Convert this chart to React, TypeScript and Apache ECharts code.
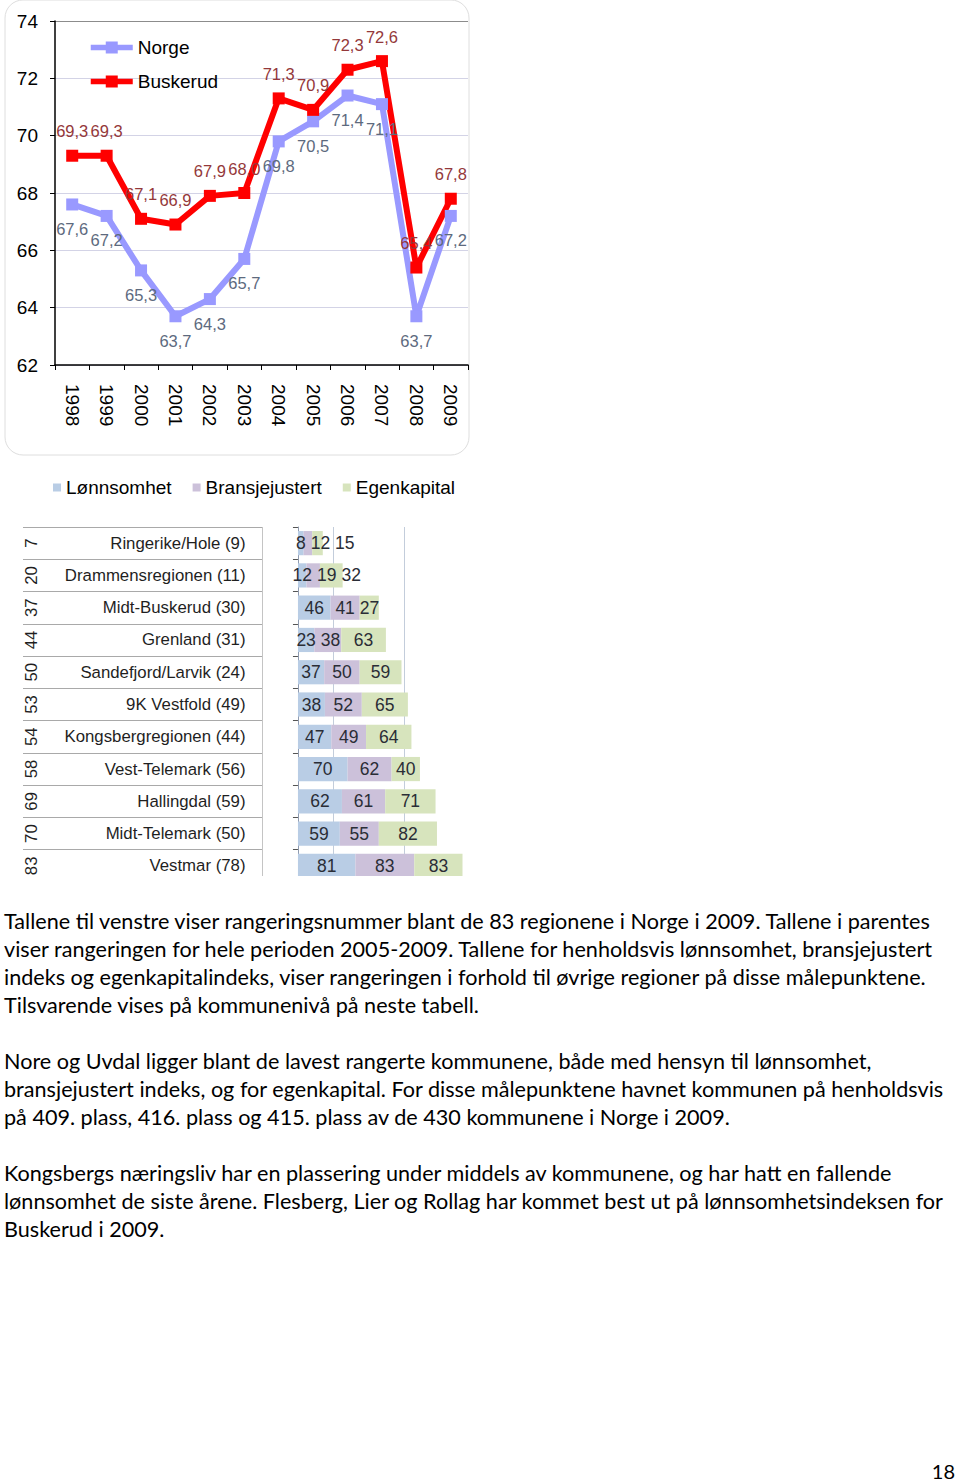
import React, { useEffect, useRef } from 'react';
import * as echarts from 'echarts';

// ---- Line chart data ----
const years = ['1998', '1999', '2000', '2001', '2002', '2003', '2004', '2005', '2006', '2007', '2008', '2009'];
const norge = [67.6, 67.2, 65.3, 63.7, 64.3, 65.7, 69.8, 70.5, 71.4, 71.1, 63.7, 67.2];
const buskerud = [69.3, 69.3, 67.1, 66.9, 67.9, 68.0, 71.3, 70.9, 72.3, 72.6, 65.4, 67.8];

// ---- Ranking table / bar data ----
const regions = [
  'Ringerike/Hole', 'Drammensregionen', 'Midt-Buskerud', 'Grenland', 'Sandefjord/Larvik',
  '9K Vestfold', 'Kongsbergregionen', 'Vest-Telemark', 'Hallingdal', 'Midt-Telemark', 'Vestmar',
];
const periodRank = [9, 11, 30, 31, 24, 49, 44, 56, 59, 50, 78];
const rank2009 = [7, 20, 37, 44, 50, 53, 54, 58, 69, 70, 83];
const lonnsomhet = [8, 12, 46, 23, 37, 38, 47, 70, 62, 59, 81];
const bransjejustert = [12, 19, 41, 38, 50, 52, 49, 62, 61, 55, 83];
const egenkapital = [15, 32, 27, 63, 59, 65, 64, 40, 71, 82, 83];

const paragraphLines = [
  'Tallene til venstre viser rangeringsnummer blant de 83 regionene i Norge i 2009. Tallene i parentes',
  'viser rangeringen for hele perioden 2005-2009. Tallene for henholdsvis lønnsomhet, bransjejustert',
  'indeks og egenkapitalindeks, viser rangeringen i forhold til øvrige regioner på disse målepunktene.',
  'Tilsvarende vises på kommunenivå på neste tabell.',
  '',
  'Nore og Uvdal ligger blant de lavest rangerte kommunene, både med hensyn til lønnsomhet,',
  'bransjejustert indeks, og for egenkapital. For disse målepunktene havnet kommunen på henholdsvis',
  'på 409. plass, 416. plass og 415. plass av de 430 kommunene i Norge i 2009.',
  '',
  'Kongsbergs næringsliv har en plassering under middels av kommunene, og har hatt en fallende',
  'lønnsomhet de siste årene. Flesberg, Lier og Rollag har kommet best ut på lønnsomhetsindeksen for',
  'Buskerud i 2009.',
];

const FONT = "'Liberation Sans', Arial, sans-serif";
const TEXT_FONT = "Lato, 'Open Sans', sans-serif";

const BAR_MIN = -50;
const BAR_MAX = 232;
const BAR_GRID_W = 200;
const BAR_LABEL_SIZE = 17.5;

function fmt(v: number) {
  return v.toFixed(1).replace('.', ',');
}

// shift bar labels to the right when they would collide inside a row
function computeLabelShifts(seriesVals: number[][]) {
  const k = BAR_GRID_W / (BAR_MAX - BAR_MIN);
  const digit = 0.556 * BAR_LABEL_SIZE;
  const gap = 5;
  const shifts = seriesVals.map(() => [] as number[]);
  for (let r = 0; r < seriesVals[0].length; r++) {
    let start = 0;
    let prevRight = -Infinity;
    seriesVals.forEach((vals, s) => {
      const v = vals[r];
      const c = (start + v / 2) * k;
      const w = String(v).length * digit;
      let left = c - w / 2;
      if (left < prevRight + gap) left = prevRight + gap;
      shifts[s][r] = left + w / 2 - c;
      prevRight = left + w;
      start += v;
    });
  }
  return shifts;
}

export default function App() {
  const ref = useRef<HTMLDivElement>(null);

  useEffect(() => {
    if (!ref.current) return;
    const chart = echarts.init(ref.current, undefined, { renderer: 'svg' });
    const barVals = [lonnsomhet, bransjejustert, egenkapital];
    const shifts = computeLabelShifts(barVals);
    const barNames = ['Lønnsomhet', 'Bransjejustert', 'Egenkapital'];
    const barColors = ['#b9cde5', '#ccc1da', '#d7e4bd'];
    const T = 'rgba(0,0,0,0)';

    const barSeries = barVals.map((vals, s) => ({
      type: 'bar',
      name: barNames[s],
      xAxisIndex: 1,
      yAxisIndex: 1,
      stack: 'rank',
      barCategoryGap: '25%',
      itemStyle: { color: barColors[s] },
      label: {
        show: true,
        position: 'inside',
        fontSize: BAR_LABEL_SIZE,
        fontFamily: FONT,
        color: '#2a2d36',
      },
      data: vals.map((v, i) => ({ value: v, label: { offset: [shifts[s][i], 0] } })),
    }));

    chart.setOption({
      animation: false,
      backgroundColor: '#ffffff',
      textStyle: { fontFamily: FONT },
      legend: [
        {
          data: ['Norge', 'Buskerud'],
          orient: 'vertical',
          left: 83,
          top: 33,
          itemWidth: 42,
          itemHeight: 15,
          itemGap: 15,
          lineStyle: { width: 5.5 },
          textStyle: { fontSize: 19, color: '#000', fontFamily: FONT },
          selectedMode: false,
        },
        {
          data: barNames,
          orient: 'horizontal',
          left: 48,
          top: 473,
          icon: 'rect',
          itemWidth: 8,
          itemHeight: 8,
          itemGap: 21,
          textStyle: { fontSize: 19, color: '#000', fontFamily: FONT },
          selectedMode: false,
        },
      ],
      grid: [
        { left: 55, top: 21, width: 413, height: 344 },
        { left: 262.5, top: 527, width: BAR_GRID_W, height: 355 },
        { left: 23, top: 527, width: 239.5, height: 355 },
      ],
      xAxis: [
        {
          gridIndex: 0,
          type: 'category',
          data: years,
          boundaryGap: true,
          axisLine: { lineStyle: { color: '#000', width: 1.5 } },
          axisTick: { show: true, length: 5, lineStyle: { color: '#000' } },
          axisLabel: { rotate: -90, margin: 19, fontSize: 19, color: '#000', fontFamily: FONT, interval: 0 },
          splitLine: { show: false },
        },
        {
          gridIndex: 1,
          type: 'value',
          min: BAR_MIN,
          max: BAR_MAX,
          interval: 50,
          axisLine: { show: false },
          axisTick: { show: false },
          axisLabel: { show: false },
          splitLine: {
            show: true,
            lineStyle: { color: ['#c4c4c4', T, '#c3cddb', T, '#c3cddb', T, T, T], width: 1 },
          },
        },
        { gridIndex: 2, type: 'value', min: 0, max: 1, show: false },
      ],
      yAxis: [
        {
          gridIndex: 0,
          type: 'value',
          min: 62,
          max: 74,
          interval: 2,
          axisLine: { show: true, lineStyle: { color: '#000', width: 1.5 } },
          axisTick: { show: true, length: 5, lineStyle: { color: '#000' } },
          axisLabel: { fontSize: 19, color: '#000', margin: 17, fontFamily: FONT },
          splitLine: {
            show: true,
            lineStyle: {
              color: ['#d3d3e6', '#d3d3e6', '#d3d3e6', '#d3d3e6', '#d3d3e6', '#d3d3e6', '#8c8c8c'],
              width: 1.2,
            },
          },
        },
        {
          gridIndex: 1,
          type: 'category',
          data: regions,
          inverse: true,
          axisLine: { show: true, onZero: true, lineStyle: { color: '#8f9bb0', width: 1 } },
          axisTick: { show: true, length: 5, interval: 0, lineStyle: { color: '#555' } },
          axisLabel: { show: false },
          splitLine: { show: false },
        },
        {
          gridIndex: 2,
          type: 'category',
          data: regions.map((r, i) => `${r} (${periodRank[i]})`),
          inverse: true,
          position: 'right',
          axisLine: { show: false, onZero: false },
          axisTick: { show: false },
          axisLabel: { inside: true, margin: 17, fontSize: 16.8, color: '#1f1f1f', fontFamily: FONT, interval: 0 },
          splitLine: { show: true, interval: 0, lineStyle: { color: '#a9a9a9', width: 1.2 } },
        },
        {
          gridIndex: 2,
          type: 'category',
          data: rank2009.map((v) => String(v)),
          inverse: true,
          position: 'left',
          axisLine: { show: false, onZero: false },
          axisTick: { show: false },
          axisLabel: { inside: true, rotate: 90, margin: 0, fontSize: 16.8, color: '#1f1f1f', fontFamily: FONT, interval: 0 },
          splitLine: { show: false },
        },
      ],
      series: [
        {
          type: 'line',
          name: 'Norge',
          xAxisIndex: 0,
          yAxisIndex: 0,
          data: norge,
          symbol: 'rect',
          symbolSize: 12,
          lineStyle: { width: 6, color: '#9999ff' },
          itemStyle: { color: '#9999ff' },
          label: {
            show: true,
            position: 'bottom',
            distance: 10,
            fontSize: 16.5,
            fontFamily: FONT,
            color: '#5d6a7e',
            formatter: (p: any) => fmt(p.value),
          },
        },
        {
          type: 'line',
          name: 'Buskerud',
          xAxisIndex: 0,
          yAxisIndex: 0,
          data: buskerud,
          symbol: 'rect',
          symbolSize: 12,
          lineStyle: { width: 6, color: '#ff0000' },
          itemStyle: { color: '#ff0000' },
          label: {
            show: true,
            position: 'top',
            distance: 10,
            fontSize: 16.5,
            fontFamily: FONT,
            color: '#94383a',
            formatter: (p: any) => fmt(p.value),
          },
        },
        ...barSeries,
      ],
      graphic: [
        {
          type: 'rect',
          z: -10,
          silent: true,
          shape: { x: 5, y: 0, width: 464, height: 455, r: 18 },
          style: { fill: 'none', stroke: '#dedede', lineWidth: 1 },
        },
        {
          type: 'rect',
          z: 100,
          silent: true,
          shape: { x: 0, y: 876, width: 480, height: 14 },
          style: { fill: '#ffffff' },
        },
        {
          type: 'text',
          x: 4,
          y: 907,
          scaleX: 1.03,
          silent: true,
          style: {
            text: paragraphLines.join('\n'),
            fontSize: 21,
            fontFamily: TEXT_FONT,
            lineHeight: 28,
            fill: '#000',
            verticalAlign: 'top',
            align: 'left',
          },
        },
        {
          type: 'text',
          x: 955,
          y: 1471,
          silent: true,
          style: {
            text: '18',
            fontSize: 20,
            fontFamily: TEXT_FONT,
            fill: '#000',
            align: 'right',
            verticalAlign: 'middle',
          },
        },
      ],
    });
    return () => chart.dispose();
  }, []);

  return (
    <div
      ref={ref}
      style={{ position: 'absolute', left: 0, top: 0, width: 960, height: 1484, background: '#fff' }}
    />
  );
}
